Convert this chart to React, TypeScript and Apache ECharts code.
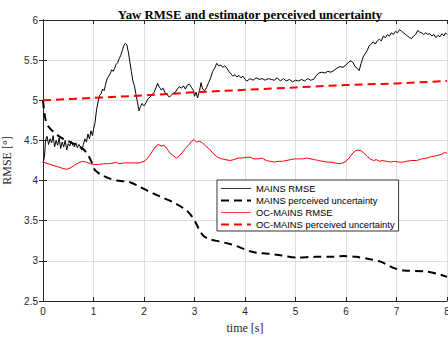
import React, { useEffect, useRef } from "react";
import * as echarts from "echarts";

// time [s], RMSE [°]
const mainsRmse: [number, number][] = [
  [0, 4.22], [0.03, 4.3], [0.05, 4.5], [0.08, 4.55], [0.11, 4.45], [0.14, 4.52], [0.17, 4.47],
  [0.2, 4.56], [0.23, 4.42], [0.26, 4.5], [0.29, 4.44], [0.32, 4.53], [0.35, 4.4], [0.38, 4.48],
  [0.41, 4.42], [0.44, 4.5], [0.47, 4.38], [0.5, 4.46], [0.53, 4.43], [0.56, 4.49], [0.59, 4.44],
  [0.62, 4.42], [0.65, 4.47], [0.68, 4.41], [0.71, 4.45], [0.74, 4.42], [0.77, 4.38], [0.8, 4.45],
  [0.83, 4.52], [0.86, 4.48], [0.89, 4.58], [0.92, 4.52], [0.95, 4.62], [0.98, 4.56], [1.0, 4.64],
  [1.03, 4.72], [1.06, 4.88], [1.09, 4.98], [1.12, 5.06], [1.15, 5.08], [1.18, 5.14], [1.21, 5.12],
  [1.24, 5.2], [1.27, 5.27], [1.3, 5.3], [1.33, 5.33], [1.36, 5.38], [1.39, 5.36], [1.42, 5.4],
  [1.45, 5.45], [1.48, 5.47], [1.51, 5.52], [1.54, 5.56], [1.57, 5.62], [1.6, 5.68], [1.63, 5.71],
  [1.66, 5.69], [1.69, 5.6], [1.72, 5.48], [1.75, 5.36], [1.78, 5.24], [1.81, 5.18], [1.84, 5.08],
  [1.87, 4.98], [1.9, 4.87], [1.93, 4.92], [1.96, 4.96], [2.0, 4.93], [2.04, 4.97], [2.08, 5.02],
  [2.12, 5.04], [2.16, 5.07], [2.2, 5.1], [2.24, 5.16], [2.27, 5.21], [2.3, 5.17], [2.34, 5.13],
  [2.38, 5.15], [2.42, 5.09], [2.46, 5.07], [2.5, 5.04], [2.54, 5.06], [2.58, 5.09], [2.62, 5.1],
  [2.66, 5.14], [2.7, 5.17], [2.74, 5.15], [2.78, 5.18], [2.82, 5.14], [2.86, 5.19], [2.9, 5.2],
  [2.94, 5.16], [2.98, 5.12], [3.0, 5.05], [3.03, 5.1], [3.06, 5.03], [3.1, 5.12], [3.13, 5.22],
  [3.16, 5.14], [3.2, 5.12], [3.24, 5.16], [3.28, 5.22], [3.32, 5.28], [3.36, 5.36], [3.4, 5.4],
  [3.44, 5.46], [3.48, 5.43], [3.52, 5.44], [3.56, 5.41], [3.6, 5.43], [3.64, 5.4], [3.68, 5.36],
  [3.72, 5.33], [3.76, 5.3], [3.8, 5.32], [3.84, 5.29], [3.88, 5.31], [3.92, 5.28], [3.96, 5.3],
  [4.0, 5.26], [4.04, 5.24], [4.1, 5.27], [4.16, 5.25], [4.22, 5.28], [4.28, 5.26], [4.34, 5.27],
  [4.4, 5.25], [4.46, 5.27], [4.52, 5.26], [4.58, 5.25], [4.64, 5.28], [4.7, 5.24], [4.76, 5.27],
  [4.82, 5.24], [4.88, 5.26], [4.94, 5.23], [5.0, 5.25], [5.06, 5.24], [5.12, 5.26], [5.18, 5.24],
  [5.24, 5.27], [5.3, 5.25], [5.36, 5.26], [5.4, 5.3], [5.46, 5.34], [5.52, 5.35], [5.58, 5.34],
  [5.64, 5.36], [5.7, 5.35], [5.76, 5.37], [5.82, 5.4], [5.88, 5.42], [5.94, 5.41], [6.0, 5.44],
  [6.06, 5.48], [6.1, 5.49], [6.14, 5.47], [6.18, 5.42], [6.22, 5.4], [6.26, 5.37], [6.3, 5.46],
  [6.34, 5.54], [6.38, 5.58], [6.42, 5.62], [6.46, 5.68], [6.5, 5.7], [6.54, 5.73], [6.58, 5.7],
  [6.62, 5.74], [6.66, 5.76], [6.7, 5.74], [6.74, 5.8], [6.78, 5.78], [6.82, 5.82], [6.86, 5.8],
  [6.9, 5.84], [6.94, 5.82], [6.98, 5.86], [7.02, 5.84], [7.06, 5.88], [7.1, 5.86], [7.14, 5.84],
  [7.18, 5.82], [7.22, 5.8], [7.26, 5.78], [7.3, 5.77], [7.34, 5.8], [7.38, 5.82], [7.42, 5.87],
  [7.46, 5.85], [7.5, 5.84], [7.54, 5.82], [7.58, 5.84], [7.62, 5.82], [7.66, 5.83], [7.7, 5.8],
  [7.74, 5.82], [7.78, 5.78], [7.82, 5.81], [7.86, 5.79], [7.9, 5.83], [7.94, 5.8], [7.97, 5.84],
  [8.0, 5.82],
];

const mainsUncertainty: [number, number][] = [
  [0, 5.0], [0.02, 4.88], [0.05, 4.76], [0.1, 4.68], [0.2, 4.61], [0.3, 4.56], [0.4, 4.52],
  [0.5, 4.49], [0.6, 4.46], [0.7, 4.43], [0.8, 4.39], [0.89, 4.32], [0.97, 4.22], [1.03, 4.13],
  [1.16, 4.07], [1.3, 4.03], [1.46, 4.0], [1.72, 3.98], [1.92, 3.92], [2.18, 3.84], [2.4, 3.78],
  [2.58, 3.73], [2.72, 3.68], [2.84, 3.63], [2.94, 3.56], [3.02, 3.48], [3.1, 3.38], [3.18, 3.31],
  [3.3, 3.27], [3.5, 3.24], [3.7, 3.21], [3.85, 3.18], [3.97, 3.15], [4.1, 3.12], [4.23, 3.1],
  [4.45, 3.09], [4.7, 3.07], [5.03, 3.04], [5.4, 3.05], [5.7, 3.05], [5.95, 3.06], [6.2, 3.05],
  [6.48, 3.02], [6.68, 2.99], [6.82, 2.95], [6.95, 2.91], [7.15, 2.88], [7.54, 2.87], [7.8, 2.84],
  [8.0, 2.8],
];

const ocMainsRmse: [number, number][] = [
  [0, 4.23], [0.1, 4.21], [0.2, 4.19], [0.3, 4.17], [0.4, 4.15], [0.47, 4.14], [0.55, 4.16],
  [0.62, 4.19], [0.7, 4.22], [0.78, 4.24], [0.86, 4.23], [0.94, 4.21], [1.0, 4.2], [1.1, 4.2],
  [1.2, 4.21], [1.3, 4.21], [1.4, 4.22], [1.45, 4.23], [1.5, 4.21], [1.6, 4.22], [1.7, 4.22],
  [1.8, 4.22], [1.9, 4.22], [2.0, 4.24], [2.06, 4.27], [2.12, 4.32], [2.18, 4.38], [2.24, 4.43],
  [2.28, 4.45], [2.34, 4.43], [2.4, 4.44], [2.46, 4.39], [2.52, 4.34], [2.58, 4.31], [2.64, 4.28],
  [2.7, 4.31], [2.76, 4.35], [2.82, 4.4], [2.88, 4.44], [2.94, 4.49], [2.99, 4.51], [3.04, 4.48],
  [3.1, 4.49], [3.16, 4.47], [3.22, 4.43], [3.3, 4.39], [3.38, 4.33], [3.46, 4.29], [3.54, 4.27],
  [3.62, 4.26], [3.7, 4.25], [3.78, 4.26], [3.86, 4.28], [3.94, 4.28], [4.02, 4.29], [4.1, 4.29],
  [4.18, 4.27], [4.26, 4.27], [4.34, 4.28], [4.42, 4.25], [4.5, 4.24], [4.58, 4.23], [4.66, 4.24],
  [4.74, 4.24], [4.82, 4.25], [4.9, 4.26], [4.98, 4.27], [5.06, 4.27], [5.14, 4.27], [5.22, 4.28],
  [5.3, 4.27], [5.38, 4.26], [5.46, 4.25], [5.54, 4.24], [5.62, 4.23], [5.7, 4.23], [5.78, 4.22],
  [5.86, 4.21], [5.94, 4.22], [6.0, 4.24], [6.06, 4.28], [6.12, 4.33], [6.18, 4.37], [6.24, 4.38],
  [6.3, 4.37], [6.36, 4.34], [6.42, 4.3], [6.48, 4.27], [6.54, 4.25], [6.6, 4.26], [6.66, 4.24],
  [6.72, 4.25], [6.8, 4.24], [6.88, 4.23], [6.96, 4.24], [7.04, 4.23], [7.12, 4.23], [7.2, 4.24],
  [7.3, 4.25], [7.4, 4.25], [7.5, 4.27], [7.6, 4.28], [7.7, 4.3], [7.8, 4.31], [7.9, 4.33],
  [7.95, 4.35], [8.0, 4.34],
];

const ocMainsUncertainty: [number, number][] = [
  [0, 5.0], [1, 5.03], [2, 5.06], [3, 5.1], [4, 5.13], [5, 5.16], [6, 5.19], [7, 5.21], [8, 5.24],
];

const seriesNames = [
  "MAINS RMSE",
  "MAINS perceived uncertainty",
  "OC-MAINS RMSE",
  "OC-MAINS perceived uncertainty",
];

const SANS = "'Liberation Sans', Arial, Helvetica, sans-serif";
const SERIF = "'Liberation Serif', 'Times New Roman', serif";
const AXIS_COLOR = "#262626";
const GRID_COLOR = "#dedede";

export default function App() {
  const ref = useRef<HTMLDivElement>(null);

  useEffect(() => {
    if (!ref.current) return;
    const chart = echarts.init(ref.current, null, { renderer: "svg" });

    const boxAxis = {
      axisLine: { show: true, lineStyle: { color: AXIS_COLOR, width: 1 } },
      axisTick: { show: true, inside: true, length: 4, lineStyle: { color: AXIS_COLOR } },
      axisLabel: { show: false },
      splitLine: { show: false },
    };

    chart.setOption({
      animation: false,
      backgroundColor: "#ffffff",
      title: {
        text: "Yaw RMSE and estimator perceived uncertainty",
        left: 245,
        textAlign: "center",
        top: 3,
        textStyle: { fontFamily: SERIF, fontWeight: "bold", fontSize: 12.8, color: "#000" },
      },
      grid: {
        left: 43,
        right: 1,
        top: 20,
        bottom: 36,
        containLabel: false,
        outerBoundsMode: "none",
      },
      legend: {
        data: [
          { name: seriesNames[0], lineStyle: { width: 1, color: "#333333" } },
          { name: seriesNames[1], lineStyle: { width: 2 } },
          { name: seriesNames[2], lineStyle: { width: 1, color: "#ff4040" } },
          { name: seriesNames[3], lineStyle: { width: 2 } },
        ],
        orient: "vertical",
        left: 217,
        top: 180,
        itemWidth: 30,
        itemHeight: 10,
        itemGap: 3,
        padding: [4, 4, 2, 3],
        backgroundColor: "#ffffff",
        borderColor: "#333333",
        borderWidth: 1,
        itemStyle: { opacity: 0 },
        textStyle: { fontFamily: SANS, fontSize: 9.4, color: "#000" },
      },
      xAxis: [
        {
          type: "value",
          min: 0,
          max: 8,
          interval: 1,
          name: "time [s]",
          nameLocation: "middle",
          nameGap: 21,
          nameTextStyle: { fontFamily: SERIF, fontSize: 12, color: "#262626" },
          axisLine: { show: true, onZero: false, lineStyle: { color: AXIS_COLOR, width: 1 } },
          axisTick: { show: true, inside: true, length: 4, lineStyle: { color: AXIS_COLOR } },
          axisLabel: { fontFamily: SANS, fontSize: 10, color: "#262626", margin: 5 },
          splitLine: { show: true, lineStyle: { color: GRID_COLOR, width: 1 } },
        },
        { type: "value", position: "top", min: 0, max: 8, interval: 1, ...boxAxis },
      ],
      yAxis: [
        {
          type: "value",
          min: 2.5,
          max: 6,
          interval: 0.5,
          name: "RMSE [°]",
          nameLocation: "middle",
          nameGap: 27,
          nameTextStyle: { fontFamily: SERIF, fontSize: 12, color: "#262626" },
          axisLine: { show: true, onZero: false, lineStyle: { color: AXIS_COLOR, width: 1 } },
          axisTick: { show: true, inside: true, length: 4, lineStyle: { color: AXIS_COLOR } },
          axisLabel: { fontFamily: SANS, fontSize: 10, color: "#262626", margin: 5 },
          splitLine: { show: true, lineStyle: { color: GRID_COLOR, width: 1 } },
        },
        { type: "value", position: "right", min: 2.5, max: 6, interval: 0.5, ...boxAxis },
      ],
      series: [
        {
          name: seriesNames[0],
          type: "line",
          data: mainsRmse,
          showSymbol: false,
          symbol: "none",
          color: "#000000",
          lineStyle: { color: "#000000", width: 1 },
        },
        {
          name: seriesNames[1],
          type: "line",
          data: mainsUncertainty,
          showSymbol: false,
          symbol: "none",
          smooth: 0.3,
          color: "#000000",
          lineStyle: { color: "#000000", width: 2, type: [8, 5] },
        },
        {
          name: seriesNames[2],
          type: "line",
          data: ocMainsRmse,
          showSymbol: false,
          symbol: "none",
          color: "#ff0000",
          lineStyle: { color: "#ff0000", width: 1 },
        },
        {
          name: seriesNames[3],
          type: "line",
          data: ocMainsUncertainty,
          showSymbol: false,
          symbol: "none",
          color: "#ff0000",
          lineStyle: { color: "#ff0000", width: 2, type: [8, 5] },
        },
      ],
    });

    return () => chart.dispose();
  }, []);

  return (
    <div
      ref={ref}
      style={{ position: "fixed", left: 0, top: 0, width: 448, height: 337 }}
    />
  );
}
